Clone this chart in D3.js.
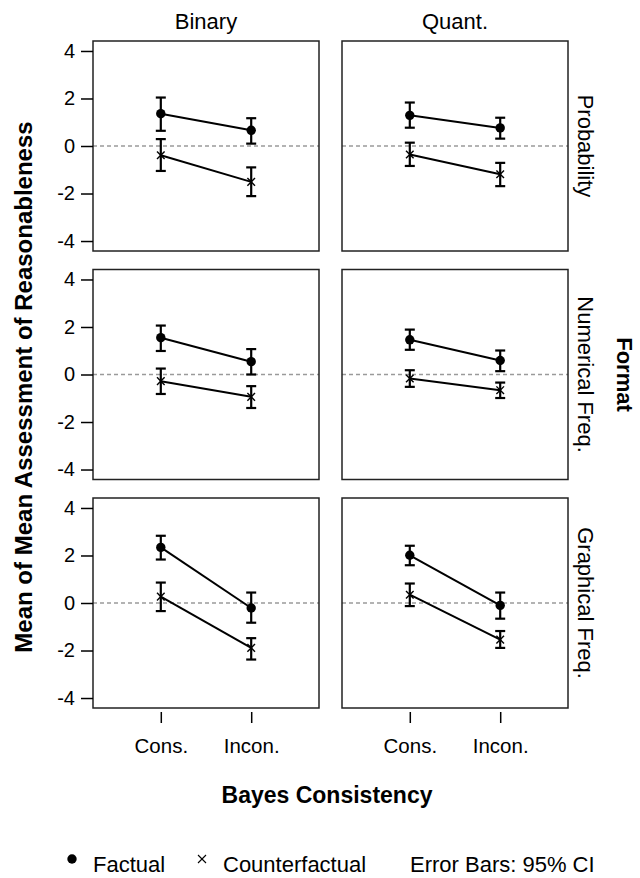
<!DOCTYPE html>
<html>
<head>
<meta charset="utf-8">
<script src="https://cdn.jsdelivr.net/npm/d3@7"></script>
<style>
  html, body { margin: 0; padding: 0; background: #ffffff; }
  svg { display: block; }
  text { font-family: "Liberation Sans", Arial, sans-serif; fill: #000; }
</style>
</head>
<body>
<svg id="chart" width="640" height="878"></svg>
<script>
// ---- data ----
const formats = ["Probability", "Numerical Freq.", "Graphical Freq."];
const responseTypes = ["Binary", "Quant."];
const consistency = ["Cons.", "Incon."];
const yTicks = [-4, -2, 0, 2, 4];
const seriesNames = ["Factual", "Counterfactual"];

// panels in order: Probability/Binary, Probability/Quant., Numerical/Binary, Numerical/Quant., Graphical/Binary, Graphical/Quant.
// each entry: [Cons., Incon.]
const factualMean  = [[1.36, 0.66], [1.29, 0.76], [1.55, 0.54], [1.46, 0.59], [2.34, -0.21], [2.01, -0.10]];
const factualLower = [[0.64, 0.10], [0.77, 0.31], [0.99, 0.00], [1.04, 0.14], [1.83, -0.83], [1.59, -0.66]];
const factualUpper = [[2.04, 1.17], [1.83, 1.19], [2.06, 1.07], [1.89, 1.01], [2.83, 0.44], [2.41, 0.44]];
const cfMean  = [[-0.39, -1.51], [-0.36, -1.19], [-0.28, -0.94], [-0.17, -0.66], [0.27, -1.89], [0.35, -1.54]];
const cfLower = [[-1.05, -2.11], [-0.84, -1.69], [-0.82, -1.41], [-0.52, -0.99], [-0.34, -2.38], [-0.13, -1.89]];
const cfUpper = [[0.29, -0.90], [0.14, -0.71], [0.25, -0.49], [0.18, -0.34], [0.86, -1.48], [0.82, -1.18]];

// ---- layout ----
const svg = d3.select("#chart");
const panelW = 226, panelH = 210;
const colX = [93, 342];
const rowY = [41, 269.5, 498];
const font = "'Liberation Sans', Arial, sans-serif";

const x = d3.scalePoint().domain(consistency).range([0, panelW]).padding(0.75);
const y = d3.scaleLinear().domain([-4.42, 4.42]).range([panelH, 0]);

const series = [
  { name: seriesNames[0], mean: factualMean, lo: factualLower, hi: factualUpper, shape: "dot" },
  { name: seriesNames[1], mean: cfMean, lo: cfLower, hi: cfUpper, shape: "cross" }
];

function drawCross(g, cx, cy, s, w) {
  g.append("line").attr("x1", cx - s).attr("y1", cy - s).attr("x2", cx + s).attr("y2", cy + s)
    .attr("stroke", "#000").attr("stroke-width", w);
  g.append("line").attr("x1", cx - s).attr("y1", cy + s).attr("x2", cx + s).attr("y2", cy - s)
    .attr("stroke", "#000").attr("stroke-width", w);
}

formats.forEach((fmt, r) => {
  responseTypes.forEach((rt, c) => {
    const idx = r * responseTypes.length + c;
    const g = svg.append("g").attr("transform", `translate(${colX[c]},${rowY[r]})`);

    // zero reference line
    g.append("line")
      .attr("x1", 0).attr("x2", panelW)
      .attr("y1", y(0)).attr("y2", y(0))
      .attr("stroke", "#9a9a9a").attr("stroke-width", 1.6)
      .attr("stroke-dasharray", "4,3");

    series.forEach(s => {
      const pts = consistency.map((k, i) => ({ k, m: s.mean[idx][i], lo: s.lo[idx][i], hi: s.hi[idx][i] }));
      g.append("path")
        .datum(pts)
        .attr("d", d3.line().x(d => x(d.k)).y(d => y(d.m)))
        .attr("fill", "none").attr("stroke", "#000").attr("stroke-width", 2);
      pts.forEach(d => {
        const cx = x(d.k);
        g.append("line").attr("x1", cx).attr("x2", cx).attr("y1", y(d.lo)).attr("y2", y(d.hi))
          .attr("stroke", "#000").attr("stroke-width", 2.2);
        [d.lo, d.hi].forEach(v => {
          g.append("line").attr("x1", cx - 5).attr("x2", cx + 5).attr("y1", y(v)).attr("y2", y(v))
            .attr("stroke", "#000").attr("stroke-width", 2.2);
        });
        if (s.shape === "dot") {
          g.append("circle").attr("cx", cx).attr("cy", y(d.m)).attr("r", 4.7).attr("fill", "#000");
        } else {
          drawCross(g, cx, y(d.m), 3.8, 1.4);
        }
      });
    });

    // frame
    g.append("rect").attr("x", 0).attr("y", 0).attr("width", panelW).attr("height", panelH)
      .attr("fill", "none").attr("stroke", "#222").attr("stroke-width", 1.5);

    if (c === 0) {
      const ax = g.append("g").call(d3.axisLeft(y).tickValues(yTicks).tickSize(12).tickPadding(6).tickFormat(d => String(d)));
      ax.select(".domain").remove();
      ax.selectAll("line").attr("stroke", "#000").attr("stroke-width", 1.5);
      ax.selectAll("text").style("font-family", font).style("font-size", "20px").attr("fill", "#000");
    }
    if (r === formats.length - 1) {
      const ax = g.append("g").attr("transform", `translate(0,${panelH + 4})`)
        .call(d3.axisBottom(x).tickSize(11).tickPadding(15));
      ax.select(".domain").remove();
      ax.selectAll("line").attr("stroke", "#000").attr("stroke-width", 1.5);
      ax.selectAll("text").style("font-family", font).style("font-size", "20.5px").attr("fill", "#000");
    }
    if (r === 0) {
      svg.append("text").attr("x", colX[c] + panelW / 2).attr("y", 29)
        .attr("text-anchor", "middle").style("font-size", "22px").text(rt);
    }
  });
  svg.append("text")
    .attr("transform", `translate(578,${rowY[r] + panelH / 2}) rotate(90)`)
    .attr("text-anchor", "middle").style("font-size", "22px").text(fmt);
});

// axis titles
svg.append("text")
  .attr("transform", `translate(32,387) rotate(-90)`)
  .attr("text-anchor", "middle").style("font-size", "24px").style("font-weight", "bold")
  .text("Mean of Mean Assessment of Reasonableness");

svg.append("text")
  .attr("transform", `translate(617,${(rowY[0] + rowY[2] + panelH) / 2}) rotate(90)`)
  .attr("text-anchor", "middle").style("font-size", "22px").style("font-weight", "bold")
  .text("Format");

svg.append("text")
  .attr("x", 327).attr("y", 803)
  .attr("text-anchor", "middle").style("font-size", "23px").style("font-weight", "bold")
  .text("Bayes Consistency");

// legend
const lg = svg.append("g");
lg.append("circle").attr("cx", 72).attr("cy", 859).attr("r", 4.7).attr("fill", "#000");
lg.append("text").attr("x", 93).attr("y", 872).style("font-size", "22px").text(seriesNames[0]);
drawCross(lg, 202, 859, 4, 1.1);
lg.append("text").attr("x", 223).attr("y", 872).style("font-size", "22px").text(seriesNames[1]);
lg.append("text").attr("x", 410).attr("y", 872).style("font-size", "22px").text("Error Bars: 95% CI");
</script>
</body>
</html>
